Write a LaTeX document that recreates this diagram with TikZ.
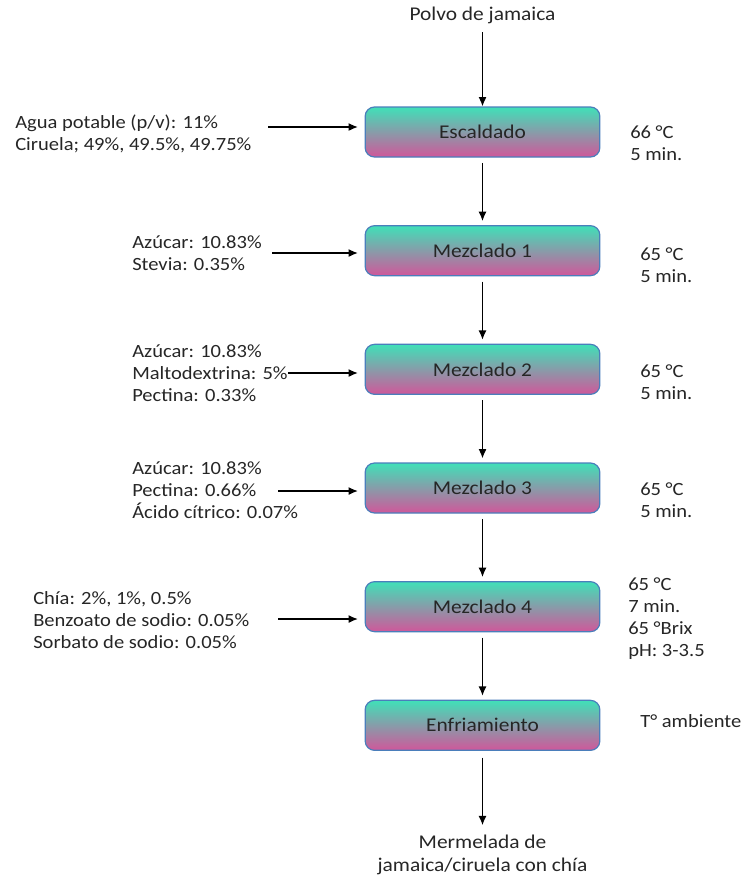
\documentclass[tikz,border=0pt]{standalone}
\usepackage{fontspec}
\setmainfont[FakeStretch=1.1]{Carlito}
\usetikzlibrary{arrows.meta,positioning}
\definecolor{boxtop}{HTML}{40E0B8}
\definecolor{boxbot}{HTML}{D0579A}
\definecolor{boxedge}{HTML}{4A7EBB}
\definecolor{inkgray}{HTML}{262626}
\tikzset{
  procbox/.style={draw=boxedge,line width=0.9pt,rounded corners=7pt,top color=boxtop,bottom color=boxbot,
    minimum width=176pt,minimum height=37.5pt,text=inkgray,inner sep=2pt},
  sidetext/.style={align=left,anchor=west,inner sep=0pt,text=inkgray,font=\fontsize{14}{16.5}\selectfont},
  flowarrow/.style={-{Latex[length=7pt,width=6pt]},draw=black,line width=1pt}
}

\begin{document}
\begin{tikzpicture}[x=0.75pt,y=-0.75pt,node distance=50.6pt,font=\fontsize{14.6}{17}\selectfont]
  \useasboundingbox (0,0) rectangle (742,886);
  % main chain
  \node[text=inkgray] (polvo) at (482.5,15) {Polvo de jamaica};
  \node[procbox] (esc) at (482.5,132) {Escaldado};
  \node[procbox,below=of esc] (mz1) {Mezclado 1};
  \node[procbox,below=of mz1] (mz2) {Mezclado 2};
  \node[procbox,below=of mz2] (mz3) {Mezclado 3};
  \node[procbox,below=of mz3] (mz4) {Mezclado 4};
  \node[procbox,below=of mz4] (enf) {Enfriamiento};
  \node[align=center,text=inkgray] (merm) at (482.5,855) {Mermelada de\\jamaica/ciruela con chía};
  % inputs
  \node[sidetext] (in0) at (15,134) {Agua potable (p/v): 11\%\\Ciruela; 49\%, 49.5\%, 49.75\%};
  \node[sidetext] (in1) at (132,253) {Azúcar: 10.83\%\\Stevia: 0.35\%};
  \node[sidetext] (in2) at (132,373) {Azúcar: 10.83\%\\Maltodextrina: 5\%\\Pectina: 0.33\%};
  \node[sidetext] (in3) at (132,490) {Azúcar: 10.83\%\\Pectina: 0.66\%\\Ácido cítrico: 0.07\%};
  \node[sidetext] (in4) at (33,620) {Chía: 2\%, 1\%, 0.5\%\\Benzoato de sodio: 0.05\%\\Sorbato de sodio: 0.05\%};
  % conditions
  \node[sidetext] (cd0) at (630,143) {66 °C\\5 min.};
  \node[sidetext] (cd1) at (640,265) {65 °C\\5 min.};
  \node[sidetext] (cd2) at (640,382) {65 °C\\5 min.};
  \node[sidetext] (cd3) at (640,500) {65 °C\\5 min.};
  \node[sidetext] (cd4) at (628,619) {65 °C\\7 min.\\65 °Brix\\pH: 3-3.5};
  \node[sidetext] (cd5) at (640,721) {T° ambiente};
  % arrow starts
  \coordinate (a0) at (268,127);
  \coordinate (a1) at (272,253);
  \coordinate (a3) at (278,491);
  \coordinate (a4) at (278,619);
  \draw[flowarrow,shorten <=3pt] (polvo) -- (esc);
  \draw[flowarrow,shorten <=4pt,shorten >=3pt] (esc) -- (mz1);
  \draw[flowarrow,shorten <=4pt,shorten >=3pt] (mz1) -- (mz2);
  \draw[flowarrow,shorten <=4pt,shorten >=3pt] (mz2) -- (mz3);
  \draw[flowarrow,shorten <=4pt,shorten >=3pt] (mz3) -- (mz4);
  \draw[flowarrow,shorten <=4pt,shorten >=3pt] (mz4) -- (enf);
  \draw[flowarrow,shorten <=5pt,shorten >=4pt] (enf) -- (merm);
  \draw[flowarrow,shorten >=5pt] (a0) -- (a0 -| esc.west);
  \draw[flowarrow,shorten >=5pt] (a1) -- (a1 -| mz1.west);
  \draw[flowarrow,shorten >=5pt] (in2.east) -- (in2.east -| mz2.west);
  \draw[flowarrow,shorten >=5pt] (a3) -- (a3 -| mz3.west);
  \draw[flowarrow,shorten >=5pt] (a4) -- (a4 -| mz4.west);
\end{tikzpicture}
\end{document}
